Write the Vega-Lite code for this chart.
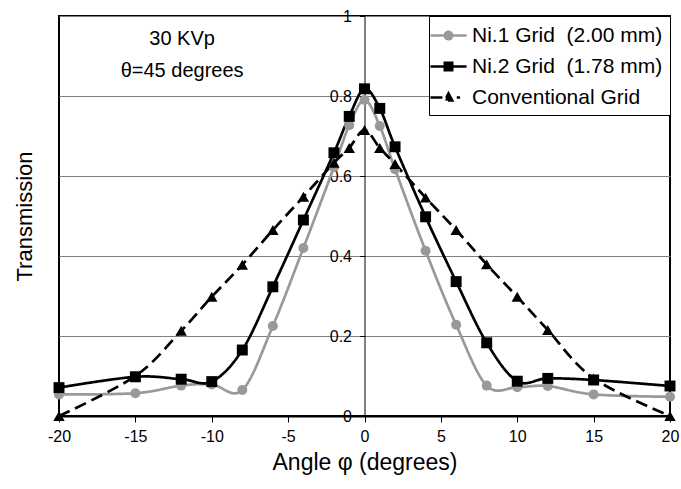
{
  "$schema": "https://vega.github.io/schema/vega-lite/v6.json",
  "width": 611,
  "height": 400,
  "autosize": {"type": "none"},
  "padding": {"left": 59, "top": 16, "right": 11, "bottom": 73},
  "config": {
    "view": {"stroke": "#000000", "strokeWidth": 2},
    "font": "Liberation Sans",
    "text": {"font": "Liberation Sans"}
  },
  "datasets": {
    "series": [
      {"angle": -20, "transmission": 0.054, "series": "Ni.1 Grid\u00a0 (2.00 mm)"},
      {"angle": -15, "transmission": 0.057, "series": "Ni.1 Grid\u00a0 (2.00 mm)"},
      {"angle": -12, "transmission": 0.076, "series": "Ni.1 Grid\u00a0 (2.00 mm)"},
      {"angle": -10, "transmission": 0.079, "series": "Ni.1 Grid\u00a0 (2.00 mm)"},
      {"angle": -8, "transmission": 0.065, "series": "Ni.1 Grid\u00a0 (2.00 mm)"},
      {"angle": -6, "transmission": 0.225, "series": "Ni.1 Grid\u00a0 (2.00 mm)"},
      {"angle": -4, "transmission": 0.42, "series": "Ni.1 Grid\u00a0 (2.00 mm)"},
      {"angle": -2, "transmission": 0.622, "series": "Ni.1 Grid\u00a0 (2.00 mm)"},
      {"angle": -1, "transmission": 0.727, "series": "Ni.1 Grid\u00a0 (2.00 mm)"},
      {"angle": 0, "transmission": 0.79, "series": "Ni.1 Grid\u00a0 (2.00 mm)"},
      {"angle": 1, "transmission": 0.725, "series": "Ni.1 Grid\u00a0 (2.00 mm)"},
      {"angle": 2, "transmission": 0.617, "series": "Ni.1 Grid\u00a0 (2.00 mm)"},
      {"angle": 4, "transmission": 0.413, "series": "Ni.1 Grid\u00a0 (2.00 mm)"},
      {"angle": 6, "transmission": 0.228, "series": "Ni.1 Grid\u00a0 (2.00 mm)"},
      {"angle": 8, "transmission": 0.076, "series": "Ni.1 Grid\u00a0 (2.00 mm)"},
      {"angle": 10, "transmission": 0.072, "series": "Ni.1 Grid\u00a0 (2.00 mm)"},
      {"angle": 12, "transmission": 0.075, "series": "Ni.1 Grid\u00a0 (2.00 mm)"},
      {"angle": 15, "transmission": 0.054, "series": "Ni.1 Grid\u00a0 (2.00 mm)"},
      {"angle": 20, "transmission": 0.048, "series": "Ni.1 Grid\u00a0 (2.00 mm)"},
      {"angle": -20, "transmission": 0.071, "series": "Ni.2 Grid\u00a0 (1.78 mm)"},
      {"angle": -15, "transmission": 0.098, "series": "Ni.2 Grid\u00a0 (1.78 mm)"},
      {"angle": -12, "transmission": 0.092, "series": "Ni.2 Grid\u00a0 (1.78 mm)"},
      {"angle": -10, "transmission": 0.086, "series": "Ni.2 Grid\u00a0 (1.78 mm)"},
      {"angle": -8, "transmission": 0.165, "series": "Ni.2 Grid\u00a0 (1.78 mm)"},
      {"angle": -6, "transmission": 0.323, "series": "Ni.2 Grid\u00a0 (1.78 mm)"},
      {"angle": -4, "transmission": 0.49, "series": "Ni.2 Grid\u00a0 (1.78 mm)"},
      {"angle": -2, "transmission": 0.658, "series": "Ni.2 Grid\u00a0 (1.78 mm)"},
      {"angle": -1, "transmission": 0.749, "series": "Ni.2 Grid\u00a0 (1.78 mm)"},
      {"angle": 0, "transmission": 0.818, "series": "Ni.2 Grid\u00a0 (1.78 mm)"},
      {"angle": 1, "transmission": 0.769, "series": "Ni.2 Grid\u00a0 (1.78 mm)"},
      {"angle": 2, "transmission": 0.673, "series": "Ni.2 Grid\u00a0 (1.78 mm)"},
      {"angle": 4, "transmission": 0.498, "series": "Ni.2 Grid\u00a0 (1.78 mm)"},
      {"angle": 6, "transmission": 0.336, "series": "Ni.2 Grid\u00a0 (1.78 mm)"},
      {"angle": 8, "transmission": 0.183, "series": "Ni.2 Grid\u00a0 (1.78 mm)"},
      {"angle": 10, "transmission": 0.087, "series": "Ni.2 Grid\u00a0 (1.78 mm)"},
      {"angle": 12, "transmission": 0.094, "series": "Ni.2 Grid\u00a0 (1.78 mm)"},
      {"angle": 15, "transmission": 0.09, "series": "Ni.2 Grid\u00a0 (1.78 mm)"},
      {"angle": 20, "transmission": 0.075, "series": "Ni.2 Grid\u00a0 (1.78 mm)"},
      {"angle": -20, "transmission": 0.0, "series": "Conventional Grid"},
      {"angle": -15, "transmission": 0.1, "series": "Conventional Grid"},
      {"angle": -12, "transmission": 0.213, "series": "Conventional Grid"},
      {"angle": -10, "transmission": 0.298, "series": "Conventional Grid"},
      {"angle": -8, "transmission": 0.378, "series": "Conventional Grid"},
      {"angle": -6, "transmission": 0.465, "series": "Conventional Grid"},
      {"angle": -4, "transmission": 0.548, "series": "Conventional Grid"},
      {"angle": -2, "transmission": 0.633, "series": "Conventional Grid"},
      {"angle": -1, "transmission": 0.67, "series": "Conventional Grid"},
      {"angle": 0, "transmission": 0.715, "series": "Conventional Grid"},
      {"angle": 1, "transmission": 0.67, "series": "Conventional Grid"},
      {"angle": 2, "transmission": 0.63, "series": "Conventional Grid"},
      {"angle": 4, "transmission": 0.546, "series": "Conventional Grid"},
      {"angle": 6, "transmission": 0.465, "series": "Conventional Grid"},
      {"angle": 8, "transmission": 0.379, "series": "Conventional Grid"},
      {"angle": 10, "transmission": 0.298, "series": "Conventional Grid"},
      {"angle": 12, "transmission": 0.215, "series": "Conventional Grid"},
      {"angle": 15, "transmission": 0.094, "series": "Conventional Grid"},
      {"angle": 20, "transmission": 0.0, "series": "Conventional Grid"}
    ],
    "notes": [
      {"angle": -11.94, "transmission": 0.943, "label": "30 KVp"},
      {"angle": -11.94, "transmission": 0.862, "label": "θ=45 degrees"}
    ]
  },
  "layer": [
    {
      "data": {"name": "series"},
      "mark": {"type": "line", "interpolate": "cardinal", "strokeWidth": 2.7},
      "encoding": {
        "x": {
          "field": "angle", "type": "quantitative",
          "scale": {"domain": [-20, 20], "nice": false, "zero": false},
          "axis": {
            "values": [-20, -15, -10, -5, 0, 5, 10, 15, 20],
            "labelExpr": "datum.value < 0 ? '-' + abs(datum.value) : '' + datum.value",
            "title": "Angle φ (degrees)",
            "grid": false,
            "domainColor": "#000000", "domainWidth": 2,
            "tickColor": "#000000", "tickSize": 6, "tickWidth": 1,
            "labelFontSize": 16, "labelColor": "#000000", "labelPadding": 6, "labelFlush": false,
            "titleFontSize": 23, "titleFontWeight": "normal", "titleColor": "#000000", "titlePadding": 7
          }
        },
        "y": {
          "field": "transmission", "type": "quantitative",
          "scale": {"domain": [0, 1], "nice": false},
          "axis": {
            "values": [0, 0.2, 0.4, 0.6, 0.8, 1],
            "format": "~g",
            "offset": -305.5,
            "grid": true, "gridColor": "#808080", "gridWidth": 1,
            "domainColor": "#000000", "domainWidth": 1,
            "tickColor": "#000000", "tickSize": 5,
            "labelFontSize": 16, "labelColor": "#000000", "labelPadding": 8,
            "title": "Transmission",
            "titleFontSize": 22, "titleFontWeight": "normal", "titleColor": "#000000",
            "titleX": -340, "titleY": 200, "titleAngle": -90,
            "titleAlign": "center", "titleBaseline": "middle"
          }
        },
        "color": {
          "field": "series", "type": "nominal",
          "scale": {
            "domain": ["Ni.1 Grid\u00a0 (2.00 mm)", "Ni.2 Grid\u00a0 (1.78 mm)", "Conventional Grid"],
            "range": ["#999999", "#000000", "#000000"]
          },
          "legend": {
            "title": null,
            "orient": "top-right",
            "offset": 0,
            "padding": 7,
            "rowPadding": 8,
            "symbolSize": 484,
            "labelFontSize": 21,
            "labelColor": "#000000",
            "labelOffset": 11,
            "labelLimit": 400,
            "strokeColor": "#000000",
            "fillColor": "#ffffff",
            "encode": {
              "symbols": {
                "update": {
                  "shape": {"signal": "indexof(datum.value,'Ni.1')>=0 ? 'M-1.64,0H1.64M-0.33,0A0.33,0.33,0,1,1,0.33,0A0.33,0.33,0,1,1,-0.33,0ZM-0.11,0A0.11,0.11,0,1,1,0.11,0A0.11,0.11,0,1,1,-0.11,0Z' : indexof(datum.value,'Ni.2')>=0 ? 'M-1.64,0H1.64M-0.33,-0.33H0.33V0.33H-0.33ZM-0.11,-0.11H0.11V0.11H-0.11Z' : 'M-1.64,0H-0.45M0,-0.36L0.33,0.27L-0.33,0.27ZM0,-0.25V0.27M-0.18,0.12H0.18M0.75,0H1.05'"},
                  "fill": {"signal": "indexof(datum.value,'Ni.1')>=0 ? '#999999' : '#000000'"},
                  "stroke": {"signal": "indexof(datum.value,'Ni.1')>=0 ? '#999999' : '#000000'"},
                  "strokeWidth": {"value": 2.7},
                  "opacity": {"value": 1}
                }
              }
            }
          }
        },
        "strokeDash": {
          "field": "series", "type": "nominal",
          "scale": {
            "domain": ["Ni.1 Grid\u00a0 (2.00 mm)", "Ni.2 Grid\u00a0 (1.78 mm)", "Conventional Grid"],
            "range": [[1, 0], [1, 0], [12, 6]]
          },
          "legend": null
        }
      }
    },
    {
      "data": {"name": "series"},
      "transform": [{"filter": "indexof(datum.series, 'Ni.1') >= 0"}],
      "mark": {"type": "point", "shape": "circle", "filled": true, "opacity": 1, "color": "#999999", "size": 100},
      "encoding": {
        "x": {"field": "angle", "type": "quantitative"},
        "y": {"field": "transmission", "type": "quantitative"}
      }
    },
    {
      "data": {"name": "series"},
      "transform": [{"filter": "indexof(datum.series, 'Ni.2') >= 0"}],
      "mark": {"type": "point", "shape": "square", "filled": true, "opacity": 1, "color": "#000000", "size": 120},
      "encoding": {
        "x": {"field": "angle", "type": "quantitative"},
        "y": {"field": "transmission", "type": "quantitative"}
      }
    },
    {
      "data": {"name": "series"},
      "transform": [{"filter": "datum.series === 'Conventional Grid'"}],
      "mark": {"type": "point", "shape": "triangle-up", "filled": true, "opacity": 1, "color": "#000000", "size": 130},
      "encoding": {
        "x": {"field": "angle", "type": "quantitative"},
        "y": {"field": "transmission", "type": "quantitative"}
      }
    },
    {
      "data": {"name": "notes"},
      "mark": {"type": "text", "fontSize": 20, "align": "center", "baseline": "middle", "color": "#000000"},
      "encoding": {
        "x": {"field": "angle", "type": "quantitative"},
        "y": {"field": "transmission", "type": "quantitative"},
        "text": {"field": "label"}
      }
    }
  ]
}
